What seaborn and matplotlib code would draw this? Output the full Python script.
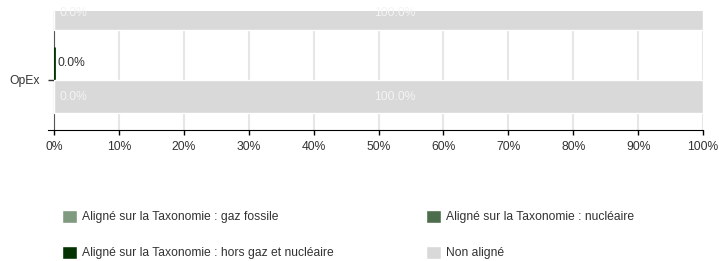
import matplotlib
matplotlib.use("Agg")
import matplotlib.pyplot as plt
from matplotlib.patches import Patch
import seaborn as sns
import pandas as pd

# data
categories = ["CapEx", "OpEx"]
gaz_fossile = [0.0, 0.0]
nucleaire = [0.0, 0.0]
hors_gaz_nucleaire = [0.0, 0.0]
non_aligne = [100.0, 100.0]

x_ticks = [0, 10, 20, 30, 40, 50, 60, 70, 80, 90, 100]

legend_labels = [
    "Aligné sur la Taxonomie : gaz fossile",
    "Aligné sur la Taxonomie : nucléaire",
    "Aligné sur la Taxonomie : hors gaz et nucléaire",
    "Non aligné",
]
colors = {
    "gaz": "#7f9a7f",
    "nucl": "#4d6e4d",
    "hors": "#033303",
    "non": "#d9d9d9",
}

rows = []
for i, cat in enumerate(categories):
    aligned = gaz_fossile[i] + nucleaire[i] + hors_gaz_nucleaire[i]
    rows.append({"categorie": cat, "serie": "Aligné", "valeur": aligned})
    rows.append({"categorie": cat, "serie": "Non aligné", "valeur": non_aligne[i]})
df = pd.DataFrame(rows)
aligned_vals = df[df.serie == "Aligné"]["valeur"].tolist()

sns.set_style("white")
plt.rcParams["font.family"] = ["Liberation Sans", "DejaVu Sans"]
FS = 8.75

fig = plt.figure(figsize=(7.19, 2.61), dpi=100)
ax = fig.add_axes([54 / 719, 1 - 130 / 261, 649 / 719, 119 / 261])

sns.barplot(data=df, x="valeur", y="categorie", hue="serie", orient="h",
            order=categories, hue_order=["Aligné", "Non aligné"],
            palette={"Aligné": colors["hors"], "Non aligné": colors["non"]},
            saturation=1, width=0.8, legend=False, ax=ax, zorder=2)

# aligned bar: thin visible sliver even at 0
for p in ax.containers[0]:
    p.set_edgecolor(colors["hors"])
    p.set_linewidth(2.0)

# value labels
for i, p in enumerate(ax.containers[0]):
    yc = p.get_y() + p.get_height() / 2
    t = ax.annotate(f"{aligned_vals[i]:.1f}%", xy=(aligned_vals[i], yc),
                    xytext=(2.5, 0), textcoords="offset points", ha="left", va="center",
                    color="#333333", fontsize=FS, zorder=3)
    t.set_clip_on(True)
for i, p in enumerate(ax.containers[1]):
    yc = p.get_y() + p.get_height() / 2
    t = ax.annotate(f"{gaz_fossile[i] + nucleaire[i]:.1f}%", xy=(0, yc),
                    xytext=(3.8, 0), textcoords="offset points", ha="left", va="center",
                    color="#f4f4f4", fontsize=FS, zorder=3)
    t.set_clip_on(True)
    t = ax.annotate(f"{non_aligne[i]:.1f}%", xy=(non_aligne[i] / 2, yc),
                    xytext=(12, 0), textcoords="offset points", ha="center", va="center",
                    color="#f4f4f4", fontsize=FS, zorder=3)
    t.set_clip_on(True)

ax.set_xlim(0, 100)
ax.set_ylim(1.599, 0.174)
ax.set_xticks(x_ticks)
ax.set_xticklabels([f"{v}%" for v in x_ticks])
ax.set_xlabel("")
ax.set_ylabel("")
ax.grid(axis="x", color="#e6e6e6", linewidth=1.5, zorder=0)
ax.set_axisbelow(True)
ax.tick_params(axis="x", direction="out", length=3.6, width=1, color="black",
               labelsize=FS, labelcolor="#333333", pad=4.5, bottom=True)
ax.tick_params(axis="y", direction="out", length=4.3, width=1, color="#333333",
               labelsize=FS, labelcolor="#333333", pad=5.6, left=True)
for s in ["top", "right"]:
    ax.spines[s].set_visible(False)
ax.spines["bottom"].set_color("black")
ax.spines["bottom"].set_bounds(-1, 100)
ax.spines["left"].set_color("#555555")
ax.spines["left"].set_zorder(1)

handles = [Patch(facecolor=colors["gaz"]), Patch(facecolor=colors["hors"]),
           Patch(facecolor=colors["nucl"]), Patch(facecolor=colors["non"])]
labels = [legend_labels[0], legend_labels[2], legend_labels[1], legend_labels[3]]
fig.legend(handles, labels, ncol=2, loc="upper left",
           bbox_to_anchor=(62 / 719, 1 - 210 / 261), frameon=False,
           borderpad=0, borderaxespad=0,
           fontsize=FS, handlelength=1.23, handleheight=1.23, handletextpad=0.41,
           labelspacing=1.85, columnspacing=7.6, labelcolor="#333333")

fig.savefig("out.png", dpi=100)
